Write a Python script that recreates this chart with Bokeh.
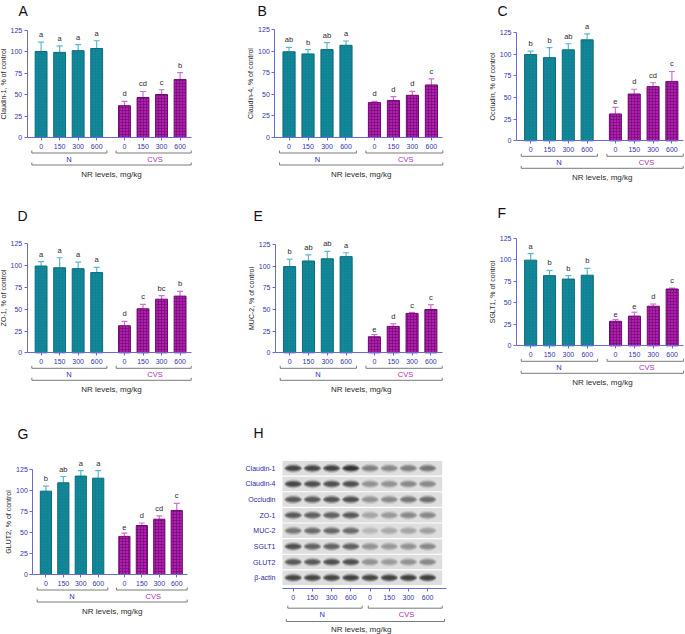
from bokeh.plotting import figure
from bokeh.layouts import column, row
from bokeh.models import Range1d, FixedTicker, ColumnDataSource
from bokeh.core.properties import value
from bokeh.embed import file_html
from bokeh.resources import INLINE

FONT = "Liberation Sans"

# ---------------- data ----------------
dose_labels = ["0", "150", "300", "600"]
group_labels = ["N", "CVS"]
x_title = "NR levels, mg/kg"

claudin1_mean = [100, 99, 101, 103.5, 37, 46.5, 50, 67.5]
claudin1_sem = [11, 7.5, 7, 9, 5, 7, 5.5, 8]
claudin1_sig = ["a", "a", "a", "a", "d", "cd", "c", "b"]

claudin4_mean = [99.5, 97, 102, 107, 40.5, 43, 49, 61]
claudin4_sem = [5, 5, 8, 5, 1.5, 4.5, 4.5, 7]
claudin4_sig = ["ab", "b", "ab", "a", "d", "d", "d", "c"]

occludin_mean = [99.5, 96, 105, 116.5, 31, 54, 62.5, 68.5]
occludin_sem = [4, 11.5, 7, 7, 7.5, 5.5, 4.5, 11.5]
occludin_sig = ["b", "b", "ab", "a", "e", "d", "cd", "c"]

zo1_mean = [99.5, 97.5, 96.5, 92, 31, 50.5, 61.5, 65]
zo1_sem = [5, 11.5, 7.5, 6, 5, 5, 4, 5.5]
zo1_sig = ["a", "a", "a", "a", "d", "c", "bc", "b"]

muc2_mean = [99.5, 106, 108.5, 111, 18.5, 30.5, 45.5, 50]
muc2_sem = [8.5, 7, 8.5, 4.5, 2.5, 3, 1, 5.5]
muc2_sig = ["b", "ab", "ab", "a", "e", "d", "c", "c"]

sglt1_mean = [99.5, 81.5, 77.5, 82, 28.5, 34.5, 46, 66]
sglt1_sem = [7.5, 6, 4, 8, 2, 4.5, 2.5, 1]
sglt1_sig = ["a", "b", "b", "b", "e", "e", "d", "c"]

glut2_mean = [99.5, 109.5, 117.5, 115, 45.5, 58.5, 66, 76.5]
glut2_sem = [6, 7.5, 6.5, 9, 4, 3, 4, 8.5]
glut2_sig = ["b", "ab", "a", "a", "e", "d", "cd", "c"]

y_ticks = [0, 25, 50, 75, 100, 125]

blot_proteins = ["Claudin-1", "Claudin-4", "Occludin", "ZO-1", "MUC-2", "SGLT1", "GLUT2", "\u03b2-actin"]
# band darkness (0 = none, 1 = black) read from the blot, lanes N0..N600, CVS0..CVS600
blot_claudin1 = [0.85, 0.85, 0.87, 0.95, 0.55, 0.5, 0.55, 0.6]
blot_claudin4 = [0.85, 0.8, 0.8, 0.8, 0.45, 0.45, 0.5, 0.5]
blot_occludin = [0.75, 0.75, 0.78, 0.8, 0.45, 0.5, 0.6, 0.65]
blot_zo1 = [0.75, 0.72, 0.72, 0.75, 0.35, 0.42, 0.5, 0.5]
blot_muc2 = [0.6, 0.65, 0.67, 0.65, 0.25, 0.33, 0.35, 0.38]
blot_sglt1 = [0.8, 0.7, 0.7, 0.72, 0.45, 0.42, 0.45, 0.5]
blot_glut2 = [0.75, 0.75, 0.8, 0.8, 0.45, 0.4, 0.45, 0.5]
blot_actin = [0.85, 0.85, 0.85, 0.87, 0.85, 0.87, 0.88, 0.88]

# ---------------- layout / style ----------------
SX, SY = 1.0, 1.0
COLS = [0, 228, 458, 685]
ROWS = [0, 203, 422, 634]


def fx(rx):
    return rx * SX


def fy(ry):
    return ry * SY


AXIS_COLOR = "#6a6ad2"
TICK_TEXT = "#3434a8"
BRACKET = "#7a7a7a"
DARK = "#2a2a2a"
N_COLOR = "#2d2dc0"
CVS_COLOR = "#b030b0"
TEAL, TEAL_EDGE, TEAL_HATCH, TEAL_ERR = "#12899a", "#0b6c7a", "#0a6a78", "#5cbac8"
MAG, MAG_EDGE, MAG_HATCH, MAG_ERR = "#b020b0", "#700a70", "#6e086e", "#d070d0"

bar_x = [0, 1, 2, 3, 4.5, 5.5, 6.5, 7.5]
AX0, AX1 = -0.75, 8.1


def txt(p, x, y, t, size, color, align="center", baseline="middle", **kw):
    p.text(x=x, y=y, text=t, text_font=value(FONT), text_font_size=value(size),
           text_color=color, text_align=align, text_baseline=baseline, **kw)


def bracket(p, x0, x1, yb, tick):
    p.multi_line(xs=[[x0, x0, x1, x1]], ys=[[yb + tick, yb, yb, yb + tick]],
                 line_color=BRACKET, line_width=1)


def base_fig(W, H, xr, yr):
    p = figure(width=W, height=H, x_range=Range1d(*xr), y_range=Range1d(*yr),
               output_backend="svg", toolbar_location=None, min_border=0)
    p.outline_line_color = None
    p.grid.visible = False
    p.background_fill_color = "white"
    p.border_fill_color = "white"
    return p


def style_axis(ax):
    ax.axis_line_color = AXIS_COLOR
    ax.major_tick_line_color = AXIS_COLOR
    ax.major_tick_out = 3
    ax.major_tick_in = 0
    ax.minor_tick_line_color = None
    ax.major_label_text_font = FONT
    ax.major_label_text_font_size = "7px"
    ax.major_label_text_color = TICK_TEXT
    ax.major_label_standoff = 3


def bar_panel(letter, ylabel, mean, sem, sig, col, rowi, ax_rx, end_rx, y0_ry, y125_ry, let_rx, let_ry):
    W = COLS[col + 1] - COLS[col]
    H = ROWS[rowi + 1] - ROWS[rowi]
    lx = lambda rx: fx(rx) - COLS[col]
    ly = lambda ry: fy(ry) - ROWS[rowi]
    ppx = (lx(end_rx) - lx(ax_rx)) / (AX1 - AX0)
    x_start = AX0 - lx(ax_rx) / ppx
    x_end = x_start + W / ppx
    ppu = (ly(y0_ry) - ly(y125_ry)) / 125.0
    y_end = ly(y0_ry) / ppu
    y_start = y_end - H / ppu
    p = base_fig(W, H, (x_start, x_end), (y_start, y_end))

    xa = p.xaxis[0]
    style_axis(xa)
    xa.fixed_location = 0
    xa.bounds = (AX0, AX1)
    xa.ticker = FixedTicker(ticks=bar_x)
    xa.major_label_overrides = {x: lab for x, lab in zip(bar_x, dose_labels + dose_labels)}

    ya = p.yaxis[0]
    style_axis(ya)
    ya.fixed_location = AX0
    ya.bounds = (0, 125)
    ya.major_label_standoff = 2
    ya.ticker = FixedTicker(ticks=y_ticks)
    ya.axis_label = ylabel
    ya.axis_label_text_font = FONT
    ya.axis_label_text_font_size = "7px"
    ya.axis_label_text_font_style = "normal"
    ya.axis_label_text_color = DARK
    ya.axis_label_standoff = 1

    top = [m + e for m, e in zip(mean, sem)]
    src = ColumnDataSource(dict(
        x=bar_x, top=mean, etop=top, sig=sig,
        fill=[TEAL] * 4 + [MAG] * 4,
        edge=[TEAL_EDGE] * 4 + [MAG_EDGE] * 4,
        hatch=[TEAL_HATCH] * 4 + [MAG_HATCH] * 4,
        halpha=[0.22] * 4 + [0.75] * 4,
        err=[TEAL_ERR] * 4 + [MAG_ERR] * 4,
        cx0=[x - 3.0 / ppx for x in bar_x],
        cx1=[x + 3.0 / ppx for x in bar_x],
    ))
    p.segment(x0="x", y0="top", x1="x", y1="etop", source=src, line_color="err", line_width=1.2)
    p.segment(x0="cx0", y0="etop", x1="cx1", y1="etop", source=src, line_color="err", line_width=1.2)
    p.vbar(x="x", top="top", bottom=0, width=0.64, source=src, fill_color="fill",
           line_color="edge", line_width=1, hatch_pattern="+", hatch_scale=3,
           hatch_color="hatch", hatch_alpha="halpha", hatch_weight=0.8)
    p.text(x="x", y="etop", text="sig", source=src, text_font=value(FONT),
           text_font_size=value("7.5px"), text_color=DARK, text_align="center",
           text_baseline="bottom", y_offset=-3)

    d = lambda r: -r * SY / ppu
    t = 2.5 / ppu
    bracket(p, -0.5, 3.55, d(15.5), t)
    bracket(p, 4.05, AX1, d(15.5), t)
    bracket(p, -0.5, AX1, d(27.5), t)
    txt(p, [1.5], [d(22)], [group_labels[0]], "7.5px", N_COLOR)
    txt(p, [6.15], [d(22)], [group_labels[1]], "7.5px", CVS_COLOR)
    txt(p, [3.8], [d(36.6)], [x_title], "8px", DARK)

    txt(p, [x_start + lx(let_rx) / ppx], [y_end - ly(let_ry) / ppu], [letter], "14px", "#111111",
        align="left", baseline="top")
    return p


def band_color(dk):
    lvl = int(round(232 - 195 * dk))
    return "#%02x%02x%02x" % (lvl, lvl, lvl)


def blot_panel(col, rowi):
    W = COLS[col + 1] - COLS[col]
    H = ROWS[rowi + 1] - ROWS[rowi]
    lx = lambda rx: fx(rx) - COLS[col]
    ly = lambda ry: fy(ry) - ROWS[rowi]
    lane0_rx, lane_dx = 292.7, 19.2
    ppx = lane_dx * SX
    strip_dy = 15.625
    ppu = strip_dy * SY
    axis_ry = 588.3
    x_start = -lx(lane0_rx) / ppx
    x_end = x_start + W / ppx
    axis_y = -(axis_ry - 585.0) / strip_dy - 0.5
    y_end = axis_y + ly(axis_ry) / ppu
    y_start = y_end - H / ppu
    p = base_fig(W, H, (x_start, x_end), (y_start, y_end))

    blot_l = (282.0 - lane0_rx) / lane_dx
    blot_r = (441.7 - lane0_rx) / lane_dx
    lanes = list(range(8))

    xa = p.xaxis[0]
    style_axis(xa)
    xa.fixed_location = axis_y
    xa.bounds = (blot_l, (446.0 - lane0_rx) / lane_dx)
    xa.ticker = FixedTicker(ticks=lanes)
    xa.major_label_overrides = {x: lab for x, lab in zip(lanes, dose_labels + dose_labels)}

    ya = p.yaxis[0]
    style_axis(ya)
    ya.fixed_location = blot_l
    ya.axis_line_color = None
    ya.major_tick_line_color = None
    ya.major_tick_out = 0
    ya.major_label_standoff = 7
    ya.major_label_text_color = "#2a2aa8"
    ya.ticker = FixedTicker(ticks=list(range(8)))
    ya.major_label_overrides = {7 - k: name for k, name in enumerate(blot_proteins)}

    rows_dk = [blot_claudin1, blot_claudin4, blot_occludin, blot_zo1,
               blot_muc2, blot_sglt1, blot_glut2, blot_actin]
    ys = [7 - k for k in range(8)]
    p.rect(x=[(blot_l + blot_r) / 2] * 8, y=ys, width=blot_r - blot_l,
           height=1 - 1.2 / ppu, fill_color="#dedede", line_color=None)
    bx, by, bc = [], [], []
    for k, dks in enumerate(rows_dk):
        for i, dk in enumerate(dks):
            bx.append(i)
            by.append(7 - k)
            bc.append(band_color(dk))
    bsrc = ColumnDataSource(dict(x=bx, y=by, c=bc))
    for w, h, a in [(18.0, 9.0, 0.25), (16.5, 6.5, 0.45), (14.5, 4.4, 0.7), (11.5, 2.6, 0.8)]:
        p.ellipse(x="x", y="y", width=w / ppx, height=h / ppu, source=bsrc,
                  fill_color="c", fill_alpha=a, line_color=None)

    d = lambda r: axis_y - r * SY / ppu
    t = 2.5 / ppu
    bracket(p, -0.28, 3.59, d(19.4), t)
    bracket(p, 3.91, 7.76, d(19.4), t)
    bracket(p, -0.36, 7.88, d(32.7), t)
    txt(p, [1.51], [d(26)], [group_labels[0]], "7.5px", N_COLOR)
    txt(p, [5.9], [d(26)], [group_labels[1]], "7.5px", CVS_COLOR)
    txt(p, [3.54], [d(41)], [x_title], "8px", DARK)
    txt(p, [x_start + lx(253) / ppx], [y_end - ly(424.5) / ppu], ["H"], "14px", "#111111",
        align="left", baseline="top")
    return p


pA = bar_panel("A", "Claudin-1, % of control", claudin1_mean, claudin1_sem, claudin1_sig,
               0, 0, 26.7, 190.7, 137.0, 29.5, 18, 2.5)
pB = bar_panel("B", "Claudin-4, % of control", claudin4_mean, claudin4_sem, claudin4_sig,
               1, 0, 274.3, 442.3, 137.0, 29.3, 257, 2.5)
pC = bar_panel("C", "Occludin, % of control", occludin_mean, occludin_sem, occludin_sig,
               2, 0, 516.0, 682.7, 140.3, 32.0, 497, 2.5)
pD = bar_panel("D", "ZO-1, % of control", zo1_mean, zo1_sem, zo1_sig,
               0, 1, 26.7, 190.7, 352.3, 243.3, 17, 207.5)
pE = bar_panel("E", "MUC-2, % of control", muc2_mean, muc2_sem, muc2_sig,
               1, 1, 275.0, 441.7, 352.3, 244.0, 253, 207.5)
pF = bar_panel("F", "SGLT1, % of control", sglt1_mean, sglt1_sem, sglt1_sig,
               2, 1, 516.0, 683.0, 345.3, 237.7, 497, 204.5)
pG = bar_panel("G", "GLUT2, % of control", glut2_mean, glut2_sem, glut2_sig,
               0, 2, 32.3, 186.7, 574.0, 469.3, 17, 425.5)
pH = blot_panel(1, 2)

layout = column(row(pA, pB, pC), row(pD, pE, pF), row(pG, pH))
open("out.html", "w").write(file_html(layout, INLINE))
